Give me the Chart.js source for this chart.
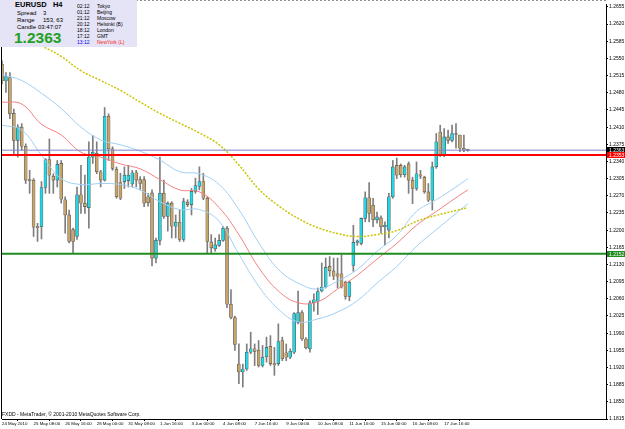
<!DOCTYPE html>
<html>
<head>
<meta charset="utf-8">
<script src="https://cdn.jsdelivr.net/npm/chart.js@4.4.0/dist/chart.umd.min.js"></script>
<style>
  html, body { margin: 0; padding: 0; background: #fff; }
  #wrap { position: relative; width: 625px; height: 429px; overflow: hidden; }
  canvas { display: block; }
  .panel { position: absolute; left: 0; top: 0; width: 137px; height: 47px; background: #e4e4f6; font-family: 'Liberation Sans', Arial, sans-serif; color: #000; }
  .panel div { position: absolute; white-space: nowrap; }
  .sm { font-size: 5px; line-height: 6px; }
  .md { font-size: 6px; line-height: 7px; }
  .copy { position: absolute; left: 2px; top: 411px; font: 5px/6px 'Liberation Sans', Arial, sans-serif; color: #000; }
</style>
</head>
<body>
<div id="wrap">
  <canvas id="c" width="625" height="429"></canvas>
  <div class="panel">
    <div style="left:15px;top:1px;font-weight:bold;font-size:7.5px;line-height:8px;">EURUSD&nbsp;&nbsp;&nbsp;H4</div>
    <div class="md" style="left:17px;top:10px;">Spread</div><div class="md" style="left:43px;top:10px;">3</div>
    <div class="md" style="left:17px;top:17px;">Range</div><div class="md" style="left:43px;top:17px;">153, 63</div>
    <div class="md" style="left:17px;top:24px;">Candle</div><div class="md" style="left:38px;top:24px;">03:47:07</div>
    <div style="left:14px;top:30px;font-weight:bold;font-size:15.5px;line-height:16px;color:#22a022;">1.2363</div>
    <div class="sm" style="left:77px;top:3px;">02:12</div><div class="sm" style="left:97px;top:3px;">Tokyo</div>
    <div class="sm" style="left:77px;top:9px;">01:12</div><div class="sm" style="left:97px;top:9px;">Beijing</div>
    <div class="sm" style="left:77px;top:14.5px;">21:12</div><div class="sm" style="left:97px;top:14.5px;">Moscow</div>
    <div class="sm" style="left:77px;top:20.5px;">20:12</div><div class="sm" style="left:97px;top:20.5px;">Helsinki (B)</div>
    <div class="sm" style="left:77px;top:26.5px;">18:12</div><div class="sm" style="left:97px;top:26.5px;">London</div>
    <div class="sm" style="left:77px;top:32.5px;">17:12</div><div class="sm" style="left:97px;top:32.5px;">GMT</div>
    <div class="sm" style="left:77px;top:38.5px;color:#0000ff;">13:12</div><div class="sm" style="left:97px;top:38.5px;color:#ff2020;">NewYork (L)</div>
  </div>
  <div class="copy">FXDD - MetaTrader, © 2001-2010 MetaQuotes Software Corp.</div>
</div>
<script>
// EURUSD H4, 24 May 2010 .. 18 Jun 2010
const xLabels = ['24 May 2010', '25 May 08:00', '26 May 16:00', '28 May 00:00', '31 May 08:00',
  '1 Jun 16:00', '3 Jun 00:00', '4 Jun 08:00', '7 Jun 16:00', '9 Jun 00:00',
  '10 Jun 08:00', '11 Jun 16:00', '15 Jun 00:00', '16 Jun 08:00', '17 Jun 16:00'];
const labelIdx = [0, 8, 16, 24, 32, 40, 48, 56, 64, 72, 80, 88, 96, 104, 112];

const yTicks = [1.1815, 1.1850, 1.1885, 1.1920, 1.1955, 1.1990, 1.2025, 1.2060, 1.2095, 1.2130,
  1.2165, 1.2200, 1.2235, 1.2270, 1.2305, 1.2340, 1.2375, 1.2410, 1.2445, 1.2480,
  1.2515, 1.2550, 1.2585, 1.2620, 1.2655];

const opens = [
  1.2538,1.2504,1.2511,1.2438,1.2383,1.2410,1.2371,1.2303,1.2302,1.2206,
  1.2207,1.2287,1.2344,1.2310,1.2302,1.2336,1.2262,1.2231,1.2201,1.2187,
  1.2272,1.2255,1.2246,1.2349,1.2357,1.2319,1.2302,1.2432,1.2366,1.2324,
  1.2297,1.2299,1.2301,1.2294,1.2317,1.2303,1.2303,1.2268,1.2276,1.2143,
  1.2179,1.2275,1.2228,1.2255,1.2208,1.2216,1.2181,1.2257,1.2252,1.2279,
  1.2289,1.2299,1.2265,1.2176,1.2162,1.2169,1.2179,1.2204,1.2049,1.2022,
  1.1927,1.1911,1.1917,1.1951,1.1958,1.1955,1.1924,1.1942,1.1963,1.1928,
  1.1928,1.1975,1.1950,1.1941,1.1951,1.2012,1.2032,1.1978,1.1958,1.2052,
  1.2055,1.2076,1.2084,1.2126,1.2117,1.2111,1.2111,1.2094,1.2065,1.2128,
  1.2175,1.2173,1.2224,1.2266,1.2251,1.2221,1.2225,1.2207,1.2200,1.2268,
  1.2332,1.2332,1.2313,1.2335,1.2302,1.2285,1.2313,1.2308,1.2278,1.2261,
  1.2329,1.2400,1.2353,1.2390,1.2383,1.2397,1.2394,1.2367,1.2362];
const highs = [
  1.2545,1.2521,1.2521,1.2447,1.2415,1.2417,1.2376,1.2322,1.2305,1.2214,
  1.2299,1.2346,1.2386,1.2315,1.2342,1.2342,1.2268,1.2241,1.2204,1.2288,
  1.2332,1.2312,1.2380,1.2393,1.2380,1.2322,1.2450,1.2437,1.2370,1.2329,
  1.2316,1.2329,1.2332,1.2322,1.2322,1.2309,1.2309,1.2275,1.2282,1.2184,
  1.2349,1.2302,1.2258,1.2258,1.2231,1.2241,1.2265,1.2262,1.2285,1.2306,
  1.2329,1.2316,1.2268,1.2191,1.2184,1.2191,1.2208,1.2208,1.2079,1.2025,
  1.1968,1.1927,1.1968,1.1992,1.1968,1.1975,1.1965,1.1982,1.1985,1.1961,
  1.2009,1.1982,1.1968,1.1958,1.2032,1.2076,1.2036,1.1981,1.2056,1.2070,
  1.2082,1.2133,1.2143,1.2146,1.2143,1.2143,1.2150,1.2096,1.2096,1.2210,
  1.2180,1.2225,1.2278,1.2297,1.2265,1.2237,1.2229,1.2217,1.2275,1.2342,
  1.2347,1.2335,1.2332,1.2339,1.2308,1.2339,1.2322,1.2310,1.2295,1.2339,
  1.2397,1.2414,1.2407,1.2404,1.2414,1.2417,1.2394,1.2394,1.2365];
const lows = [
  1.2498,1.2481,1.2427,1.2353,1.2349,1.2363,1.2295,1.2275,1.2187,1.2177,
  1.2182,1.2275,1.2275,1.2275,1.2288,1.2255,1.2194,1.2174,1.2154,1.2181,
  1.2234,1.2234,1.2204,1.2336,1.2315,1.2288,1.2300,1.2342,1.2322,1.2265,
  1.2262,1.2285,1.2288,1.2288,1.2288,1.2282,1.2248,1.2249,1.2127,1.2133,
  1.2170,1.2224,1.2198,1.2184,1.2184,1.2177,1.2177,1.2248,1.2231,1.2275,
  1.2282,1.2262,1.2154,1.2154,1.2157,1.2167,1.2177,1.2042,1.2019,1.1955,
  1.1887,1.1880,1.1914,1.1948,1.1924,1.1921,1.1921,1.1931,1.1924,1.1904,
  1.1924,1.1934,1.1934,1.1938,1.1948,1.2009,1.1975,1.1958,1.1951,1.2035,
  1.2028,1.2074,1.2082,1.2106,1.2099,1.2082,1.2082,1.2059,1.2056,1.2116,
  1.2169,1.2170,1.2217,1.2217,1.2207,1.2214,1.2194,1.2170,1.2184,1.2265,
  1.2305,1.2308,1.2308,1.2275,1.2254,1.2281,1.2305,1.2275,1.2258,1.2241,
  1.2326,1.2350,1.2350,1.2377,1.2380,1.2367,1.2360,1.2360,1.2361];
const closes = [
  1.2504,1.2513,1.2437,1.2383,1.2410,1.2371,1.2302,1.2301,1.2206,1.2205,
  1.2287,1.2344,1.2312,1.2302,1.2334,1.2263,1.2231,1.2177,1.2177,1.2272,
  1.2255,1.2248,1.2349,1.2359,1.2319,1.2302,1.2432,1.2366,1.2326,1.2268,
  1.2265,1.2312,1.2312,1.2317,1.2302,1.2295,1.2255,1.2256,1.2143,1.2179,
  1.2275,1.2228,1.2255,1.2208,1.2216,1.2181,1.2258,1.2252,1.2279,1.2291,
  1.2299,1.2265,1.2177,1.2164,1.2170,1.2179,1.2204,1.2049,1.2022,1.1967,
  1.1911,1.1917,1.1951,1.1958,1.1953,1.1924,1.1941,1.1961,1.1928,1.1925,
  1.1973,1.1938,1.1941,1.1953,1.2030,1.2032,1.1978,1.1960,1.2052,1.2058,
  1.2075,1.2084,1.2124,1.2117,1.2106,1.2106,1.2084,1.2065,1.2094,1.2175,
  1.2178,1.2224,1.2266,1.2234,1.2221,1.2227,1.2207,1.2210,1.2268,1.2329,
  1.2312,1.2313,1.2329,1.2302,1.2285,1.2315,1.2310,1.2278,1.2261,1.2329,
  1.2380,1.2353,1.2390,1.2383,1.2397,1.2395,1.2367,1.2363,1.2364];

// envelope lines, read every 5 bars
const lineIdx = [0, 5, 10, 15, 20, 25, 30, 35, 40, 45, 50, 55, 60, 65, 70, 75, 80, 85, 90, 95, 100, 105, 110, 115, 118];
const upperBand = [1.2517, 1.2505, 1.2479, 1.2448, 1.2410, 1.2384, 1.2374, 1.2361, 1.2343, 1.2319, 1.2315, 1.2293, 1.2242,
  1.2175, 1.2120, 1.2092, 1.2080, 1.2096, 1.2120, 1.2157, 1.2189, 1.2238, 1.2262, 1.2288, 1.2305];
const midLine = [1.2461, 1.2457, 1.2416, 1.2394, 1.2359, 1.2349, 1.2335, 1.2325, 1.2303, 1.2282, 1.2278, 1.2246, 1.2191,
  1.2124, 1.2076, 1.2052, 1.2054, 1.2080, 1.2108, 1.2141, 1.2173, 1.2210, 1.2238, 1.2266, 1.2282];
const lowerBand = [1.2414, 1.2404, 1.2353, 1.2305, 1.2293, 1.2295, 1.2293, 1.2282, 1.2258, 1.2242, 1.2242, 1.2218, 1.2151,
  1.2086, 1.2039, 1.2013, 1.2019, 1.2033, 1.2056, 1.2092, 1.2126, 1.2167, 1.2201, 1.2234, 1.2254];
// slow moving average (dotted yellow)
const maIdx = [10, 15, 20, 25, 30, 35, 40, 45, 50, 55, 60, 65, 70, 75, 80, 85, 90, 95, 100, 105, 110, 115, 118];
const slowMA = [1.2576, 1.2554, 1.2525, 1.2505, 1.2485, 1.2461, 1.2438, 1.2418, 1.2398, 1.2374, 1.2333, 1.2284,
  1.2250, 1.2224, 1.2205, 1.2193, 1.2187, 1.2191, 1.2199, 1.2218, 1.2230, 1.2240, 1.2246];

// horizontal levels
const levelBid = 1.2363;
const levelRed = 1.2353;
const levelGreen = 1.2152;

const bullColor = '#22d6e2';
const bearColor = '#c8a46a';
const monoFont = "'Liberation Sans', Arial, sans-serif";
const X_MAX = 153;

const bodies = opens.map((o, i) => ({ x: i, y: [o, closes[i]] }));
const wicks = lows.map((l, i) => ({ x: i, y: [l, highs[i]] }));
const toPts = (idx, vals) => idx.map((x, i) => ({ x: x, y: vals[i] }));
const hLine = v => [{ x: 0, y: v }, { x: X_MAX, y: v }];

// etiquetas de precio en el eje derecho
const axisTags = {
  id: 'axisTags',
  afterDraw(chart) {
    const ctx = chart.ctx;
    const y = chart.scales.y;
    const area = chart.chartArea;
    const tags = [
      { v: levelBid, bg: '#000000' },
      { v: levelRed, bg: '#ff0000' },
      { v: levelGreen, bg: '#1e8c1e' }
    ];
    ctx.save();
    ctx.font = '5px ' + monoFont;
    ctx.textBaseline = 'middle';
    tags.forEach(t => {
      const py = Math.round(y.getPixelForValue(t.v));
      ctx.fillStyle = t.bg;
      ctx.fillRect(area.right + 1, py - 3, 18, 6);
      ctx.fillStyle = '#ffffff';
      ctx.fillText(t.v.toFixed(4), area.right + 3, py + 0.5);
    });
    // marco
    ctx.strokeStyle = '#000';
    ctx.lineWidth = 1;
    ctx.beginPath();
    ctx.moveTo(1.5, 0);
    ctx.lineTo(1.5, area.bottom);
    ctx.stroke();
    ctx.strokeStyle = '#909090';
    ctx.setLineDash([2, 2]);
    ctx.beginPath();
    ctx.moveTo(0, 0.5);
    ctx.lineTo(area.right, 0.5);
    ctx.stroke();
    ctx.restore();
  }
};

new Chart(document.getElementById('c'), {
  type: 'bar',
  data: {
    datasets: [
      { type: 'line', data: hLine(levelRed), borderColor: '#ff0000', borderWidth: 2, pointRadius: 0, order: 0 },
      { type: 'line', data: hLine(levelBid), borderColor: '#7c86c6', borderWidth: 1, pointRadius: 0, order: 0 },
      { type: 'line', data: hLine(levelGreen), borderColor: '#1e8c1e', borderWidth: 2, pointRadius: 0, order: 0 },
      { type: 'line', data: toPts(maIdx, slowMA), borderColor: '#c8c400', borderWidth: 1.5, borderDash: [2, 1.5], pointRadius: 0, tension: 0.4, order: 0 },
      { type: 'line', data: toPts(lineIdx, upperBand), borderColor: '#9fcff5', borderWidth: 1, pointRadius: 0, tension: 0.4, order: 0 },
      { type: 'line', data: toPts(lineIdx, midLine), borderColor: '#f28080', borderWidth: 1, pointRadius: 0, tension: 0.4, order: 0 },
      { type: 'line', data: toPts(lineIdx, lowerBand), borderColor: '#9fcff5', borderWidth: 1, pointRadius: 0, tension: 0.4, order: 0 },
      {
        data: bodies, grouped: false, barThickness: 3, minBarLength: 1, order: 1,
        backgroundColor: ctx => (closes[ctx.dataIndex] >= opens[ctx.dataIndex] ? bullColor : bearColor),
        borderColor: '#555555', borderWidth: 0.6, borderSkipped: false
      },
      { data: wicks, grouped: false, barThickness: 1, backgroundColor: '#7e7e7e', order: 2 }
    ]
  },
  options: {
    responsive: false,
    animation: false,
    devicePixelRatio: 1,
    layout: { padding: { left: 2, top: 1, right: 0, bottom: 0 } },
    plugins: { legend: { display: false }, tooltip: { enabled: false } },
    scales: {
      x: {
        type: 'linear', min: 0, max: X_MAX, offset: false,
        afterBuildTicks: s => { s.ticks = labelIdx.map(v => ({ value: v })); },
        afterFit: s => { s.height = 10; },
        ticks: {
          autoSkip: false, maxRotation: 0, align: 'start', padding: 0,
          color: '#000', font: { family: monoFont, size: 4.4 },
          callback: (v, i) => xLabels[i]
        },
        grid: { drawOnChartArea: false, drawTicks: true, tickLength: 2, color: '#000' },
        border: { display: true, color: '#000' }
      },
      y: {
        position: 'right', min: 1.1815, max: 1.2661,
        afterBuildTicks: s => { s.ticks = yTicks.map(v => ({ value: v })); },
        afterFit: s => { s.width = 19; },
        ticks: {
          padding: 1, color: '#000', font: { family: monoFont, size: 5 },
          callback: v => v.toFixed(4)
        },
        grid: { drawOnChartArea: false, drawTicks: true, tickLength: 2, color: '#000' },
        border: { display: true, color: '#000' }
      }
    }
  },
  plugins: [axisTags]
});
</script>
</body>
</html>
